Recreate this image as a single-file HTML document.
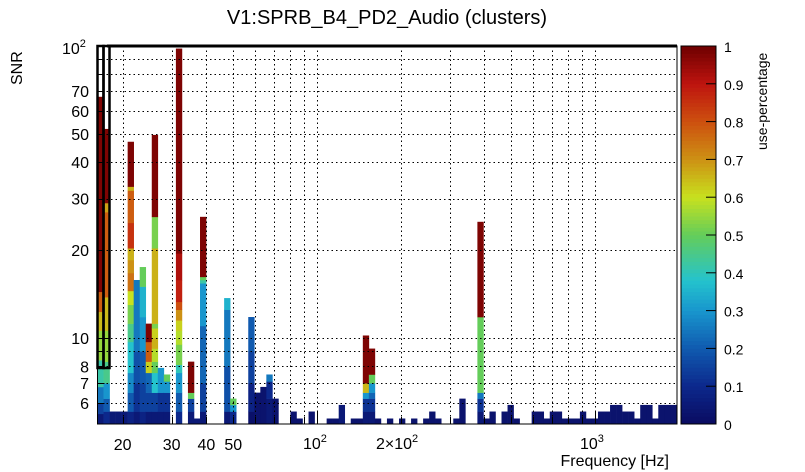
<!DOCTYPE html>
<html><head><meta charset="utf-8"><style>
body{margin:0;background:#fff;}
svg{display:block;font-family:"Liberation Sans",sans-serif;}
</style></head><body>
<svg id="c" width="805" height="472" xmlns="http://www.w3.org/2000/svg">
<text x="387" y="24" text-anchor="middle" font-size="20">V1:SPRB_B4_PD2_Audio (clusters)</text>
<text transform="translate(22,85) rotate(-90)" font-size="16">SNR</text>
<text x="669" y="466" text-anchor="end" font-size="16">Frequency [Hz]</text>
<text transform="translate(767,150) rotate(-90)" font-size="14">use-percentage</text>
</svg>
<script>
const colFreqs=[16.64,17.49,18.39,19.33,20.32,21.37,22.46,23.6,24.8,26.1,27.4,28.8,31.9,35.2,37.0,38.9,47.5,50.0,58.0,61.0,64.1,67.4,70.9,82.1,86.3,95.2,110.7,116.3,122.4,135.4,141.9,149.5,157.3,165.3,182.6,200.5,221,244,257,272,316,333,384,402.7,423.5,471,495,521,613,644,684,719,756,795,836,879,906,951,1001,1052,1102,1163,1222,1285,1352,1421,1493,1570,1651,1730,1826,1919];
const colSegs=[
[[5.5,0.05],[6.0,0.15],[6.8,0.25],[8.4,0.42],[10.6,0.55],[12.3,0.65],[14.4,0.78],[67,0.98]],
[[5.6,0.1],[6.2,0.2],[7.0,0.3],[8.3,0.45],[10.6,0.55],[13.8,0.65],[27,0.78],[29,0.68],[52,0.98]],
[[5.6,0.05]],[[5.6,0.05]],[[5.6,0.05]],
[[5.6,0.08],[6.5,0.2],[7.6,0.28],[9.7,0.38],[11.2,0.45],[13,0.52],[14.5,0.6],[16.7,0.75],[18.5,0.7],[20.3,0.66],[24.8,0.85],[32,0.78],[33,0.66],[47,0.98]],
[[5.6,0.05],[7,0.12],[9,0.18],[15.8,0.25]],
[[5.6,0.08],[7,0.15],[9,0.2],[11.8,0.3],[15,0.35],[17.5,0.5]],
[[5.6,0.05],[6.5,0.15],[7.6,0.22],[8.3,0.62],[9.7,0.78],[11.2,0.98]],
[[5.6,0.05],[6.5,0.15],[7.6,0.38],[8.3,0.5],[9.2,0.58],[10,0.66],[10.8,0.62],[11.2,0.52],[20.3,0.66],[26,0.52],[49.6,0.98]],
[[5.6,0.05],[6.5,0.12],[7.9,0.3]],
[[5.6,0.05],[6.5,0.12],[7.1,0.3],[7.5,0.5]],
[[5.6,0.1],[6.5,0.2],[7.6,0.3],[8.1,0.4],[9.5,0.52],[10.6,0.58],[11.5,0.62],[12.5,0.7],[13.3,0.8],[15.8,0.88],[19.5,0.92],[98,0.98]],
[[5.6,0.05],[6.2,0.15],[6.5,0.5],[8.3,0.98]],
[[5.3,0.05]],
[[5.6,0.05],[7,0.15],[11,0.22],[15.4,0.3],[15.8,0.42],[16.2,0.5],[26,0.98]],
[[5.6,0.05],[8,0.18],[12.5,0.25],[13.7,0.35]],
[[5.6,0.1],[5.9,0.3],[6.2,0.5]],
[[5.6,0.02],[7,0.08],[9,0.15],[11.8,0.2]],
[[6.5,0.03]],[[6.8,0.03]],
[[6.2,0.05],[7.1,0.1],[7.5,0.25]],
[[6.2,0.03]],
[[5.6,0.03]],[[5.3,0.03]],[[5.6,0.03]],[[5.3,0.03]],[[5.3,0.03]],[[5.9,0.05]],[[5.3,0.03]],[[5.3,0.03]],
[[5.6,0.05],[6.2,0.12],[6.5,0.3],[7,0.65],[10.2,0.98]],
[[5.6,0.05],[6.2,0.12],[6.5,0.22],[7,0.3],[7.5,0.5],[9.2,0.98]],
[[5.3,0.03]],[[5.3,0.03]],[[5.3,0.03]],[[5.3,0.03]],[[5.3,0.03]],[[5.6,0.03]],[[5.3,0.03]],[[5.3,0.03]],[[6.2,0.03]],
[[5.6,0.05],[6.2,0.12],[6.5,0.25],[11.8,0.5],[25,0.98]],
[[5.3,0.03]],[[5.6,0.03]],[[5.6,0.03]],[[5.9,0.03]],[[5.3,0.03]],[[5.6,0.03]],[[5.6,0.03]],[[5.3,0.03]],[[5.6,0.03]],[[5.6,0.03]],
[[5.3,0.03]],[[5.3,0.03]],[[5.3,0.03]],[[5.6,0.03]],[[5.3,0.03]],[[5.3,0.03]],[[5.6,0.03]],[[5.6,0.03]],[[5.9,0.03]],[[5.9,0.03]],
[[5.6,0.03]],[[5.6,0.03]],[[5.3,0.03]],[[5.9,0.03]],[[5.9,0.03]],[[5.3,0.03]],[[5.9,0.03]],[[5.9,0.03]],[[5.9,0.03]]
];
const yTicks=[6,7,8,9,10,20,30,40,50,60,70,80,90,100];
const yTickLabels={6:"6",7:"7",8:"8",10:"10",20:"20",30:"30",40:"40",50:"50",60:"60",70:"70"};
const xTicks=[20,30,40,50,60,70,80,90,100,200,300,400,500,600,700,800,900,1000];
const xTickLabels={20:"20",30:"30",40:"40",50:"50"};
const cbTicks=[0,0.1,0.2,0.3,0.4,0.5,0.6,0.7,0.8,0.9,1];

const L=97.5,R=677,T=46,B=424,YMIN=5.08,BW=6.03;
const X=f=>317+278*(Math.log10(f)-2);
const Y=s=>338-292*(Math.log10(s)-1);
const stops=[[0,[10,10,96]],[0.1,[12,40,140]],[0.2,[16,90,175]],[0.3,[24,150,205]],[0.38,[36,195,205]],[0.5,[100,205,90]],[0.6,[200,225,30]],[0.7,[205,145,20]],[0.8,[205,80,15]],[0.9,[190,20,15]],[1,[110,0,0]]];
function col(v){v=Math.max(0,Math.min(1,v));for(let i=1;i<stops.length;i++){if(v<=stops[i][0]){const a=stops[i-1],b=stops[i],t=(v-a[0])/(b[0]-a[0]);const c=a[1].map((x,k)=>Math.round(x+(b[1][k]-x)*t));return `rgb(${c})`;}}return 'rgb(110,0,0)';}
const svg=document.getElementById('c');const NS='http://www.w3.org/2000/svg';
function el(tag,attrs,parent){const e=document.createElementNS(NS,tag);for(const k in attrs)e.setAttribute(k,attrs[k]);(parent||svg).appendChild(e);return e;}
const g=el('g',{});


colFreqs.forEach((f,ci)=>{
  const i=Math.floor((X(f)-L)/BW);const x=L+i*BW;let lo=YMIN;
  colSegs[ci].forEach(([hi,v])=>{
    const y1=Math.max(T,Y(Math.min(hi,100))),y0=Y(lo);
    const r=el('rect',{x:x.toFixed(2),y:y1.toFixed(2),width:BW+0.3,height:(y0-y1+0.3).toFixed(2),fill:col(v)},g);
    
    
    lo=hi;
  });
});
// grid
const grid=el('g',{stroke:'#000','stroke-width':1,'stroke-dasharray':'1.5,3'});


xTicks.forEach(t=>{const x=Math.round(X(t))+0.5;el('line',{x1:x,x2:x,y1:T,y2:B},grid);});
yTicks.forEach(t=>{const y=Math.round(Y(t))+0.5;el('line',{x1:L,x2:R,y1:y,y2:y},grid);});
// ticks + labels
const ax=el('g',{stroke:'#000','stroke-width':1});


xTicks.forEach(t=>{const x=Math.round(X(t))+0.5;const big=(t===100||t===1000);el('line',{x1:x,x2:x,y1:B,y2:B-(big?12:7)},ax);});
yTicks.forEach(t=>{const y=Math.round(Y(t))+0.5;const big=(t===10||t===100);el('line',{x1:L,x2:L+(big?12:7),y1:y,y2:y},ax);});
for(const k in xTickLabels){const t=el('text',{x:X(+k),y:450,'text-anchor':'middle','font-size':16});t.textContent=xTickLabels[k];}
for(const k in yTickLabels){const t=el('text',{x:89,y:Y(+k)+6,'text-anchor':'end','font-size':16});t.textContent=yTickLabels[k];}
function pow(x,y,base,ex){const t=el('text',{x:x,y:y,'font-size':16});t.innerHTML=base+'<tspan dy="-7" font-size="11">'+ex+'</tspan>';}
pow(62,54,'10','2');pow(303,449,'10','2');pow(376,449,'2×10','2');pow(580,449,'10','3');
// frame
const fr=el('rect',{x:L,y:T,width:R-L,height:B-T,fill:'none',stroke:'#000','stroke-width':1});


const tl=el('line',{x1:107,x2:R,y1:T,y2:T,stroke:'#000','stroke-width':3});


const h1=el('rect',{x:97.5,y:46,width:6,height:322,fill:'none',stroke:'#000','stroke-width':2.5});


const h2=el('rect',{x:103.5,y:46,width:6,height:322,fill:'none',stroke:'#000','stroke-width':2.5});


// colorbar
const cb=el('g',{});


const CX=681,CW=35,N=100;
for(let k=0;k<N;k++){const v=(k+0.5)/N;const y=B-(k+1)*(B-T)/N;el('rect',{x:CX,y:y.toFixed(2),width:CW,height:((B-T)/N+0.4).toFixed(2),fill:col(v)},cb);}
el('rect',{x:CX,y:T,width:CW,height:B-T,fill:'none',stroke:'#000','stroke-width':1},cb);
cbTicks.forEach(v=>{const y=B-v*(B-T);el('line',{x1:CX+CW-10,x2:CX+CW,y1:y,y2:y,stroke:'#000'},cb);const t=el('text',{x:CX+CW+8,y:y+6,'font-size':14},cb);t.textContent=String(v);});
</script>
</body></html>
